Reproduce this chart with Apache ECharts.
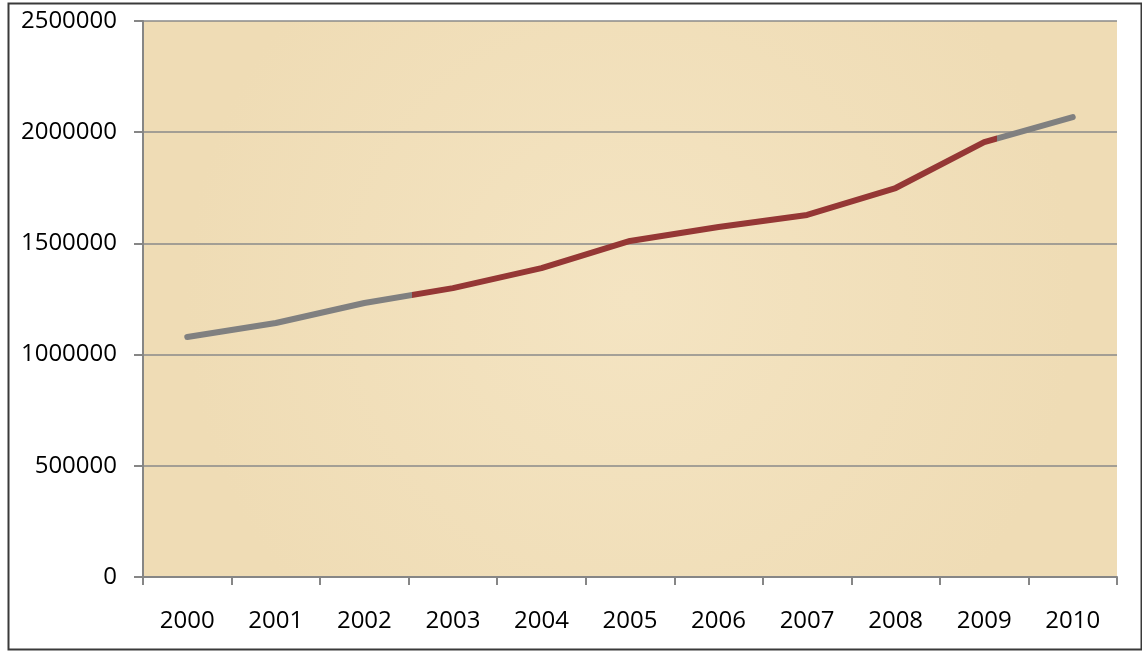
<!DOCTYPE html>
<html>
<head>
<meta charset="utf-8">
<script src="https://cdn.jsdelivr.net/npm/echarts@6/dist/echarts.min.js"></script>
<style>
html,body{margin:0;padding:0;background:#fff;}
#chart{width:1142px;height:652px;}
</style>
</head>
<body>
<div id="chart"></div>
<script>
const years = ['2000','2001','2002','2003','2004','2005','2006','2007','2008','2009','2010'];
const values = [1079000, 1142000, 1232000, 1299000, 1389000, 1511000, 1574000, 1628000, 1749000, 1955000, 2068000];
const yTicks = { min: 0, max: 2500000, interval: 500000 };

const chart = echarts.init(document.getElementById('chart'), null, { renderer: 'canvas' });
const font = '"Open Sans", "Liberation Sans", sans-serif';
const gray = '#808080';
const red = '#953735';

chart.setOption({
  backgroundColor: '#ffffff',
  animation: false,
  graphic: [{
    type: 'rect',
    left: 6, top: 1,
    shape: { width: 1133, height: 646 },
    style: { fill: 'none', stroke: '#3a3a3a', lineWidth: 2 },
    z: 100
  }],
  grid: {
    left: 143, right: 25, top: 21, bottom: 75,
    show: true,
    backgroundColor: new echarts.graphic.RadialGradient(0.5, 0.5, 0.8, [
      { offset: 0, color: '#f4e4c2' },
      { offset: 1, color: '#efdcb5' }
    ]),
    borderWidth: 0
  },
  xAxis: {
    type: 'category',
    data: years,
    boundaryGap: true,
    axisLine: { show: true, lineStyle: { color: '#868686', width: 2 } },
    axisTick: { show: true, length: 8, alignWithLabel: false, lineStyle: { color: '#868686', width: 2 } },
    axisLabel: { color: '#000', fontFamily: font, fontSize: 24, margin: 32 },
    splitLine: { show: false }
  },
  yAxis: {
    type: 'value',
    min: yTicks.min, max: yTicks.max, interval: yTicks.interval,
    axisLine: { show: true, lineStyle: { color: '#868686', width: 2 } },
    axisTick: { show: true, length: 9, inside: false, lineStyle: { color: '#868686', width: 2 } },
    axisLabel: { color: '#000', fontFamily: font, fontSize: 24, margin: 26, formatter: v => String(v) },
    splitLine: { show: true, lineStyle: { color: '#8a8a8a', width: 1.5 } }
  },
  series: [{
    type: 'line',
    data: values,
    symbol: 'none',
    smooth: false,
    lineStyle: {
      width: 6,
      cap: 'round',
      color: new echarts.graphic.LinearGradient(0, 0, 1, 0, [
        { offset: 0, color: gray },
        { offset: 0.256, color: gray },
        { offset: 0.256, color: red },
        { offset: 0.912, color: red },
        { offset: 0.912, color: gray },
        { offset: 1, color: gray }
      ])
    }
  }]
});
</script>
</body>
</html>
